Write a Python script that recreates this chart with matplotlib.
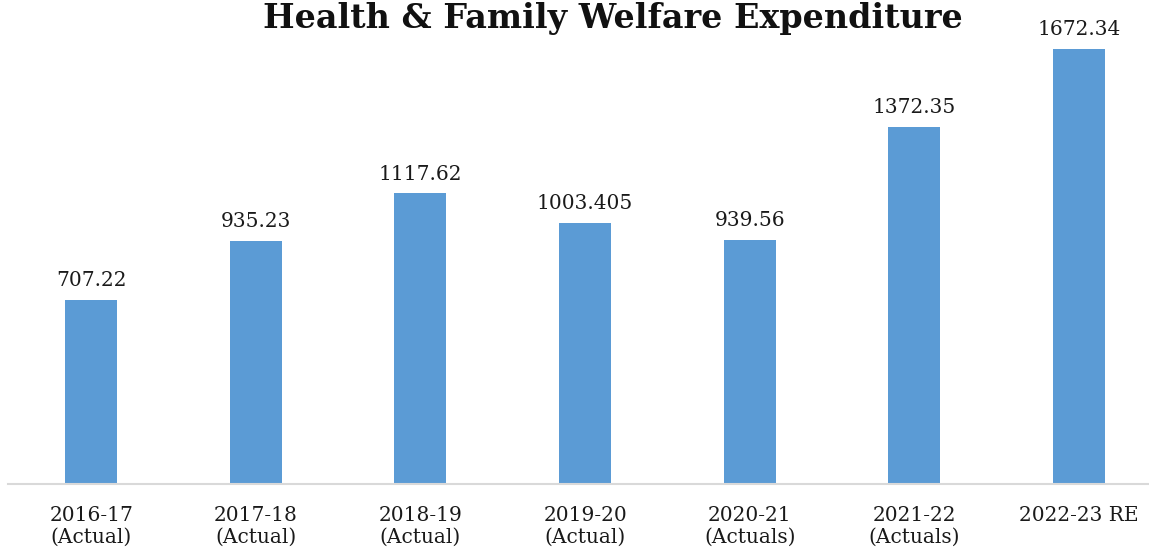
import matplotlib.pyplot as plt

# data
years = ["2016-17\n(Actual)", "2017-18\n(Actual)", "2018-19\n(Actual)", "2019-20\n(Actual)",
         "2020-21\n(Actuals)", "2021-22\n(Actuals)", "2022-23 RE"]
expenditure = [707.22, 935.23, 1117.62, 1003.405, 939.56, 1372.35, 1672.34]
value_labels = ["707.22", "935.23", "1117.62", "1003.405", "939.56", "1372.35", "1672.34"]

plt.rcParams['font.family'] = ['DejaVu Serif']

fig = plt.figure(figsize=(11.49, 5.5), dpi=100)
ax = fig.add_axes([8 / 1149, 66 / 550, 1141 / 1149, 468.2 / 550])

x = range(len(years))
bars = ax.bar(x, expenditure, width=0.316, color="#5b9bd5", zorder=2)

for b, lbl in zip(bars, value_labels):
    ax.annotate(lbl, (b.get_x() + b.get_width() / 2, b.get_height()),
                xytext=(0, 7), textcoords="offset points",
                ha="center", va="bottom", fontsize=14.5, color="#1a1a1a")

ax.set_xlim(-0.505, 6.425)
ax.set_ylim(0, 1800)
ax.set_xticks(list(x))
ax.set_xticklabels(years, fontsize=14.5, color="#1a1a1a", linespacing=1.15)
ax.tick_params(axis="x", length=0, pad=16)
ax.set_yticks([])

for side in ["top", "right", "left"]:
    ax.spines[side].set_visible(False)
ax.spines["bottom"].set_color("#d9d9d9")
ax.spines["bottom"].set_linewidth(1.5)

# title sits right at the top edge, as in the reference
fig.text(613 / 1149, 1 - 28 / 550, "Health & Family Welfare Expenditure",
         ha="center", va="baseline", fontsize=24, fontweight="bold", color="#111111")

fig.savefig("out.png", dpi=100)
